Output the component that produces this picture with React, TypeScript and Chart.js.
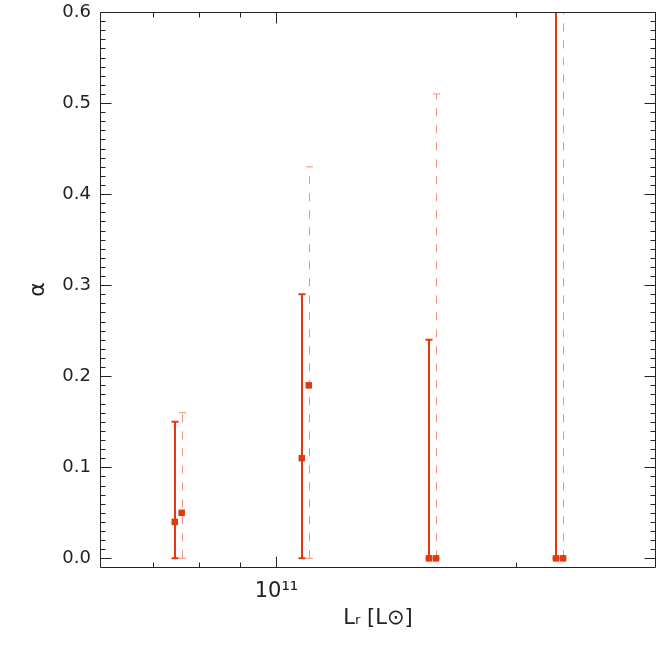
import React, { useEffect, useRef } from "react";
import { Chart, registerables } from "chart.js";

Chart.register(...registerables);

// ---- data ----
const xSolid = [7.45e10, 1.076e11, 1.555e11, 2.246e11];
const ySolid = [0.04, 0.11, 0.0, 0.0];
const loSolid = [0.0, 0.0, 0.0, 0.0];
const hiSolid = [0.15, 0.29, 0.24, 0.8];

const xDashed = [7.6e10, 1.098e11, 1.587e11, 2.292e11];
const yDashed = [0.05, 0.19, 0.0, 0.0];
const loDashed = [0.0, 0.0, 0.0, 0.0];
const hiDashed = [0.16, 0.43, 0.51, 0.8];

const yMajorTicks = [0, 0.1, 0.2, 0.3, 0.4, 0.5, 0.6];
const xMajorTicks = [1e11];
const xMinorTicks = [7e10, 8e10, 9e10, 2e11];
const xTickLabels = ["10¹¹"];

const X_MIN = 6e10;
const X_MAX = 3e11;
const Y_MIN = -0.0095;
const Y_MAX = 0.6;

const RED = "#e2380c";
const SALMON = "#f2907a";
const AXIS = "#222";
const FONT = "'DejaVu Sans', 'Liberation Sans', sans-serif";

const errorBars = {
  id: "errorBars",
  beforeDatasetsDraw(chart: any) {
    const { ctx, chartArea, scales } = chart;
    const xs = scales.x;
    const ys = scales.y;
    ctx.save();
    ctx.beginPath();
    ctx.rect(chartArea.left, chartArea.top, chartArea.right - chartArea.left, chartArea.bottom - chartArea.top);
    ctx.clip();
    chart.data.datasets.forEach((ds: any) => {
      const eb = ds.errorBar;
      if (!eb) return;
      ctx.strokeStyle = eb.color;
      ctx.lineWidth = eb.width;
      ds.data.forEach((p: any, i: number) => {
        const px = Math.round(xs.getPixelForValue(p.x)) + (eb.width % 2 ? 0.5 : 0);
        const pLo = ys.getPixelForValue(eb.lo[i]);
        const pHi = ys.getPixelForValue(eb.hi[i]);
        ctx.setLineDash(eb.dash);
        ctx.beginPath();
        ctx.moveTo(px, pLo);
        ctx.lineTo(px, pHi);
        ctx.stroke();
        ctx.setLineDash([]);
        ctx.beginPath();
        ctx.moveTo(px - eb.cap, pLo);
        ctx.lineTo(px + eb.cap, pLo);
        ctx.moveTo(px - eb.cap, pHi);
        ctx.lineTo(px + eb.cap, pHi);
        ctx.stroke();
      });
    });
    ctx.restore();
  },
};

const frameTicks = {
  id: "frameTicks",
  afterDraw(chart: any) {
    const { ctx, chartArea, scales } = chart;
    const { left, right, top, bottom } = chartArea;
    const xs = scales.x;
    const ys = scales.y;
    const L = left + 0.5;
    const R = right - 0.5;
    const T = top + 0.5;
    const B = bottom + 0.5;
    ctx.save();
    ctx.strokeStyle = AXIS;
    ctx.lineWidth = 1;
    ctx.beginPath();
    ctx.moveTo(L, T);
    ctx.lineTo(R, T);
    ctx.lineTo(R, B);
    ctx.lineTo(L, B);
    ctx.closePath();
    ctx.stroke();

    const MAJ = 11;
    const MIN = 5;
    ctx.beginPath();
    // y ticks
    for (let k = -1; k <= 60; k++) {
      const v = k / 100;
      if (v < Y_MIN || v > Y_MAX) continue;
      const isMajor = k % 10 === 0;
      const len = isMajor ? MAJ : MIN;
      const py = Math.round(ys.getPixelForValue(v)) + 0.5;
      ctx.moveTo(L, py);
      ctx.lineTo(L + len, py);
      ctx.moveTo(R, py);
      ctx.lineTo(R - len, py);
    }
    // x ticks
    const drawX = (v: number, len: number) => {
      const px = Math.round(xs.getPixelForValue(v)) + 0.5;
      ctx.moveTo(px, B);
      ctx.lineTo(px, B - len);
      ctx.moveTo(px, T);
      ctx.lineTo(px, T + len);
    };
    xMajorTicks.forEach((v) => drawX(v, MAJ));
    xMinorTicks.forEach((v) => drawX(v, MIN));
    ctx.stroke();
    ctx.restore();
  },
};

export default function App() {
  const ref = useRef<HTMLCanvasElement | null>(null);
  useEffect(() => {
    document.body.style.margin = "0";
    const canvas = ref.current;
    if (!canvas) return;
    const chart = new Chart(canvas, {
      type: "scatter",
      data: {
        datasets: [
          {
            label: "solid",
            data: xSolid.map((x, i) => ({ x, y: ySolid[i] })),
            backgroundColor: RED,
            borderColor: RED,
            borderWidth: 0,
            pointStyle: "rect",
            pointRadius: 4.6,
            errorBar: { lo: loSolid, hi: hiSolid, color: RED, width: 2, dash: [], cap: 3.5 },
          } as any,
          {
            label: "dashed",
            data: xDashed.map((x, i) => ({ x, y: yDashed[i] })),
            backgroundColor: RED,
            borderColor: RED,
            borderWidth: 0,
            pointStyle: "rect",
            pointRadius: 4.6,
            errorBar: { lo: loDashed, hi: hiDashed, color: SALMON, width: 1, dash: [8, 9], cap: 3.5 },
          } as any,
        ],
      },
      options: {
        animation: false,
        responsive: false,
        devicePixelRatio: 1,
        layout: { padding: { top: 12, right: 12, left: 0, bottom: 0 } },
        plugins: { legend: { display: false }, tooltip: { enabled: false } },
        scales: {
          x: {
            type: "logarithmic",
            min: X_MIN,
            max: X_MAX,
            grid: { display: false, drawTicks: false },
            border: { display: false },
            afterBuildTicks: (scale: any) => {
              scale.ticks = xMajorTicks.map((v) => ({ value: v, major: true }));
            },
            afterFit: (scale: any) => {
              scale.height = 101;
              scale.paddingLeft = 0;
              scale.paddingRight = 0;
            },
            ticks: {
              autoSkip: false,
              maxRotation: 0,
              padding: 12,
              color: AXIS,
              font: { family: FONT, size: 21 },
              callback: (v: any) => {
                const idx = xMajorTicks.indexOf(Number(v));
                return idx >= 0 ? xTickLabels[idx] : "";
              },
            },
            title: {
              display: true,
              text: "Lᵣ [L⊙]",
              color: AXIS,
              font: { family: FONT, size: 21 },
              padding: { top: 0, bottom: 37 },
            },
          },
          y: {
            type: "linear",
            min: Y_MIN,
            max: Y_MAX,
            grid: { display: false, drawTicks: false },
            border: { display: false },
            afterBuildTicks: (scale: any) => {
              scale.ticks = yMajorTicks.map((v) => ({ value: v }));
            },
            afterFit: (scale: any) => {
              scale.width = 100;
              scale.paddingTop = 0;
              scale.paddingBottom = 0;
            },
            ticks: {
              padding: 9,
              color: AXIS,
              font: { family: FONT, size: 18 },
              callback: (v: any) => Number(v).toFixed(1),
            },
            title: {
              display: true,
              text: "α",
              color: AXIS,
              font: { family: FONT, size: 22 },
              padding: { top: 25, bottom: 0 },
            },
          },
        },
      } as any,
      plugins: [errorBars, frameTicks],
    });
    return () => chart.destroy();
  }, []);
  return (
    <div style={{ position: "fixed", left: 0, top: 0, width: 668, height: 668, background: "#fff" }}>
      <canvas ref={ref} width={668} height={668} style={{ width: 668, height: 668 }} />
    </div>
  );
}
